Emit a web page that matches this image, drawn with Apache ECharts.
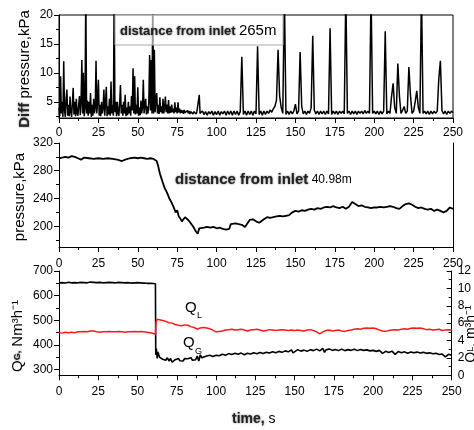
<!DOCTYPE html>
<html><head><meta charset="utf-8">
<script src="https://cdn.jsdelivr.net/npm/echarts@6/dist/echarts.min.js"></script>
<style>html,body{margin:0;padding:0;background:#fff}#c{width:474px;height:430px}</style>
</head><body><div id="c"></div>
<script>
// Time axis (s)
const timeMin = 0, timeMax = 250, timeStep = 25;

// Panel 1: differential pressure (kPa)
// diffEarly: one value every 0.5 s, t = 0 .. 90
const diffEarly = [
  4.0, 2.5, 9.4, 3.0, 5.0, 2.4, 12.0, 3.5, 2.4, 5.5,
  7.1, 2.6, 4.5, 2.5, 5.9, 3.2, 2.4, 4.8, 7.4, 2.8,
  5.0, 2.5, 5.5, 3.0, 2.6, 4.5, 6.0, 2.7, 5.0, 12.2,
  3.0, 10.0, 2.5, 4.0, 24.0, 3.0, 5.2, 2.6, 5.0, 3.0,
  6.5, 2.4, 4.5, 2.6, 5.5, 3.0, 4.0, 12.1, 3.0, 5.0,
  8.8, 2.6, 4.5, 2.5, 5.0, 3.0, 4.0, 7.1, 2.6, 4.5,
  7.6, 2.5, 4.2, 2.8, 5.5, 2.6, 8.5, 3.0, 4.5, 2.6,
  24.0, 3.2, 5.0, 2.5, 5.0, 3.0, 2.6, 4.8, 7.9, 3.0,
  4.5, 2.6, 5.0, 3.0, 6.2, 2.5, 4.0, 2.7, 5.0, 3.0,
  4.2, 2.6, 6.0, 3.5, 10.8, 3.0, 9.4, 2.8, 4.5, 3.0,
  7.5, 2.6, 4.0, 2.7, 5.2, 3.0, 4.0, 8.8, 3.0, 4.5,
  5.5, 2.8, 4.2, 3.0, 5.0, 13.1, 3.5, 12.2, 3.0, 24.0,
  3.0, 14.0, 3.2, 5.0, 6.5, 3.0, 4.5, 2.9, 5.8, 3.2,
  4.2, 3.0, 5.5, 3.0, 4.0, 5.9, 3.2, 4.5, 3.0, 5.3,
  3.0, 4.2, 3.1, 4.5, 3.2, 3.8, 3.0, 4.9, 3.2, 4.0,
  3.0, 4.9, 3.2, 3.8, 3.0, 3.6, 3.1, 3.5, 2.9, 3.6,
  3.1, 3.4, 2.9, 3.5, 3.0, 3.4, 2.9, 3.3, 3.0, 3.5,
  2.9, 3.3, 3.0, 3.4, 2.9, 3.3, 3.0, 3.5, 6.2, 3.0,
  3.3
];
// diffLate: one value every 1 s, t = 91 .. 250
const diffLate = [
  3.4, 2.8, 3.3, 2.7, 3.3, 2.9, 3.4, 2.7, 3.3, 2.8,
  3.4, 2.7, 3.3, 2.9, 3.4, 2.7, 3.4, 2.8, 3.4, 2.7,
  3.4, 2.8, 3.4, 2.7, 3.3, 12.8, 2.8, 3.4, 2.7, 3.4,
  2.8, 3.4, 2.7, 3.4, 2.9, 14.6, 2.8, 3.4, 2.7, 3.4,
  2.8, 3.4, 3.0, 3.6, 3.2, 3.8, 4.2, 5.3, 14.0, 6.0,
  4.0, 3.0, 24.0, 2.8, 3.4, 2.8, 3.4, 2.9, 3.4, 4.6,
  2.9, 3.4, 13.6, 4.2, 2.9, 3.4, 2.8, 3.4, 3.0, 4.0,
  16.4, 3.6, 2.9, 3.4, 2.8, 3.4, 2.9, 3.4, 2.8, 3.4,
  2.9, 17.7, 2.8, 3.4, 2.9, 3.4, 2.8, 3.4, 3.0, 3.4,
  2.9, 24.0, 3.0, 3.4, 2.8, 3.4, 2.9, 3.4, 2.8, 3.4,
  3.0, 3.4, 2.9, 3.5, 3.0, 3.4, 3.0, 24.0, 3.0, 3.4,
  2.9, 3.4, 2.8, 3.4, 2.9, 3.4, 17.2, 2.9, 3.4, 3.0,
  5.9, 8.2, 4.0, 3.0, 11.6, 6.0, 3.0, 3.5, 4.2, 3.0,
  3.4, 11.0, 6.2, 3.0, 3.4, 5.0, 6.9, 4.0, 3.0, 24.0,
  3.0, 3.4, 2.9, 3.4, 2.8, 3.4, 2.9, 3.4, 3.0, 3.4,
  9.0, 12.1, 3.5, 2.9, 3.4, 2.8, 3.4, 3.0, 3.4, 3.1
];
const diffEarlyStart = 0, diffEarlyStep = 0.5, diffLateStart = 91, diffLateStep = 1;
const diffTicks = [5, 10, 15, 20];
const diffMinorTicks = [2.5, 7.5, 12.5, 17.5];

// Panel 2: pressure (kPa), [time s, value]
const pressure = [
  [0,298],[2,299],[4,300],[6,299],[8,301],[10,300],[12,298],[14,296],[16,299],[17,300],
  [19,298],[22,297],[25,298],[28,297],[31,298],[34,297],[37,296],[40,294],[42,296],[45,298],
  [48,299],[50,298],[52,299],[54,298],[56,297],[58,298],[60,297],[61,297],[62,294],[63,286],
  [64,276],[65,269],[66,262],[67,255],[68,251],[69,246],[70,240],[71,236],[72,231],[73,226],
  [74,220],[75,223],[76,214],[77,211],[78,207],[79,210],[80,213],[81,211],[82,209],[83,206],
  [84,203],[85,200],[86,196],[87,192],[88,189],[89,197],[90,199],[92,198],[94,199],[96,198],
  [98,199],[100,197],[102,198],[104,196],[106,195],[107,194],[108,196],[109,203],[110,205],[112,204],
  [114,203],[116,202],[118,199],[119,200],[121,209],[123,210],[125,207],[127,205],[128,204],[130,210],
  [132,213],[134,212],[136,213],[138,214],[140,215],[142,214],[144,215],[146,216],[148,220],[150,222],
  [152,221],[154,223],[156,222],[158,224],[160,225],[162,224],[164,226],[166,225],[168,227],[170,228],
  [172,227],[174,229],[176,227],[178,226],[180,228],[182,225],[184,228],[186,235],[188,232],[190,229],
  [192,230],[194,228],[196,227],[198,226],[200,227],[202,227],[204,228],[206,227],[208,228],[210,229],
  [212,228],[214,226],[216,225],[218,229],[220,232],[222,233],[224,231],[226,228],[228,226],[230,227],
  [232,225],[234,224],[236,225],[238,222],[240,224],[242,222],[244,220],[246,222],[248,227],[250,225]
];
const pressTicks = [200, 240, 280, 320];
const pressMinorTicks = [180, 220, 260, 300];

// Panel 3: gas flow Q_G (Nm3/h), [time s, value]
const gasFlow = [
  [0,652],[2,653],[4,651],[6,654],[8,652],[10,653],[12,652],[14,654],[16,653],[18,652],
  [20,655],[22,654],[24,653],[26,654],[28,652],[30,653],[32,654],[34,653],[36,652],[38,654],
  [40,653],[42,652],[44,653],[46,651],[48,652],[50,653],[52,652],[54,651],[56,650],[58,650],
  [60,649],[61.4,648],[61.6,360],[62,385],[62.5,345],[63,372],[64,350],[65,355],[66,342],[67,350],
  [68,338],[69,348],[70,335],[71,345],[72,330],[73,322],[74,340],[75,332],[76,345],[77,336],
  [78,342],[79,335],[80,345],[81,338],[82,344],[83,340],[84,348],[85,338],[86,346],[87,340],
  [88,355],[89,335],[90,360],[91,348],[92,352],[94,355],[96,358],[98,353],[100,358],[102,356],
  [104,362],[106,358],[108,365],[110,361],[112,366],[114,362],[116,367],[118,360],[120,366],[122,363],
  [124,368],[126,364],[128,369],[130,365],[132,370],[134,367],[136,372],[138,368],[140,374],[142,370],
  [144,376],[146,372],[148,380],[149,368],[150,374],[152,381],[154,375],[156,379],[158,374],[160,381],
  [162,377],[164,383],[166,376],[168,386],[169,370],[170,380],[172,384],[174,378],[176,382],[178,377],
  [180,383],[182,377],[184,381],[186,378],[188,383],[190,377],[192,382],[194,378],[196,380],[198,376],
  [200,378],[202,374],[204,378],[206,366],[208,374],[210,369],[212,375],[214,362],[216,373],[218,368],
  [220,372],[222,366],[224,371],[226,368],[228,371],[230,367],[232,370],[234,366],[236,368],[238,364],
  [240,366],[242,361],[244,363],[246,352],[248,362],[250,358]
];
const gasTicks = [300, 400, 500, 600, 700];
const gasMinorTicks = [350, 450, 550, 650];

// Panel 3: liquid flow Q_L (m3/h), [time s, value]
const liquidFlow = [
  [0,4.9],[2,4.85],[4,4.95],[6,4.9],[8,4.95],[10,4.9],[12,5.0],[14,5.0],[16,5.05],[18,5.0],
  [20,5.1],[22,5.1],[24,5.0],[26,4.95],[28,5.0],[30,5.0],[32,5.05],[34,5.0],[36,5.0],[38,5.05],
  [40,5.0],[42,4.95],[44,5.0],[46,5.0],[48,5.05],[50,5.0],[52,5.05],[54,5.0],[56,4.95],[58,4.9],
  [60,4.8],[61.4,4.7],[61.8,6.1],[62.5,6.45],[64,6.4],[66,6.3],[68,6.2],[70,6.05],[72,6.0],[74,5.85],
  [76,5.75],[78,5.7],[80,5.8],[82,5.75],[84,5.6],[86,5.5],[88,5.3],[90,5.45],[92,5.5],[94,5.45],
  [96,5.35],[98,5.2],[100,5.0],[102,5.05],[104,5.1],[106,5.2],[108,5.25],[110,5.3],[112,5.2],[114,5.25],
  [116,5.3],[118,5.2],[120,5.1],[122,5.2],[124,5.25],[126,5.3],[128,5.2],[130,5.1],[132,5.15],[134,5.25],
  [136,5.2],[138,5.15],[140,5.2],[142,5.25],[144,5.2],[146,5.15],[148,5.2],[150,5.15],[152,5.2],[154,5.15],
  [156,5.1],[158,5.2],[160,5.25],[162,5.15],[164,5.0],[166,4.75],[168,5.0],[170,5.15],[172,5.2],[174,5.1],
  [176,5.15],[178,5.2],[180,5.1],[182,5.05],[184,5.15],[186,5.2],[188,5.3],[190,5.35],[192,5.3],[194,5.4],
  [196,5.45],[198,5.4],[200,5.45],[202,5.35],[204,5.2],[206,5.1],[208,5.05],[210,5.15],[212,5.2],[214,5.25],
  [216,5.2],[218,5.3],[220,5.35],[222,5.3],[224,5.4],[226,5.45],[228,5.4],[230,5.45],[232,5.35],[234,5.25],
  [236,5.3],[238,5.2],[240,5.25],[242,5.3],[244,5.15],[246,5.2],[248,5.25],[250,5.2]
];
const liqTicks = [0, 2, 4, 6, 8, 10, 12];
const liqMinorTicks = [1, 3, 5, 7, 9, 11];

const FONT = 'Liberation Sans, Arial, sans-serif';
const lblStyle = { fontSize: 12, fontFamily: FONT, color: '#000' };
const axisLine = { show: true, lineStyle: { color: '#000', width: 1 } };

function xAx(grid, margin) {
  return {
    type: 'value', gridIndex: grid, min: timeMin, max: timeMax, interval: timeStep, position: 'bottom',
    axisLine: axisLine, axisTick: { show: true, length: 5, lineStyle: { color: '#000' } },
    minorTick: { show: true, splitNumber: 2, length: 3, lineStyle: { color: '#000' } },
    axisLabel: Object.assign({ margin: margin }, lblStyle), splitLine: { show: false }, minorSplitLine: { show: false }
  };
}
function yMain(grid, min, max, ticks, pos, inside) {
  return {
    type: 'value', gridIndex: grid, min: min, max: max, position: pos || 'left',
    axisLine: axisLine,
    axisTick: { show: true, length: 5, inside: !!inside, customValues: ticks, lineStyle: { color: '#000' } },
    axisLabel: Object.assign({ margin: 6, customValues: ticks }, lblStyle),
    splitLine: { show: false }
  };
}
function yMinor(grid, min, max, ticks, pos, inside) {
  return {
    type: 'value', gridIndex: grid, min: min, max: max, position: pos || 'left',
    axisLine: { show: false },
    axisTick: { show: true, length: 3, inside: !!inside, customValues: ticks, lineStyle: { color: '#000' } },
    axisLabel: { show: false }, splitLine: { show: false }
  };
}

const diffData = diffEarly.map((v, i) => [diffEarlyStart + i * diffEarlyStep, v])
  .concat(diffLate.map((v, i) => [diffLateStart + i * diffLateStep, v]));

const chart = echarts.init(document.getElementById('c'), null, { renderer: 'canvas' });
const option = {
  animation: false,
  backgroundColor: '#fff',
  grid: [
    { left: 59, top: 15, width: 394, height: 103, show: true, borderColor: '#000', borderWidth: 1, backgroundColor: 'transparent' },
    { left: 59, top: 143, width: 394, height: 104 },
    { left: 59, top: 271, width: 394, height: 106 }
  ],
  xAxis: [xAx(0, 9), xAx(1, 11), xAx(2, 9)],
  yAxis: [
    yMain(0, 2.2, 20, diffTicks),
    yMinor(0, 2.2, 20, diffMinorTicks),
    yMain(1, 170, 320, pressTicks),
    yMinor(1, 170, 320, pressMinorTicks),
    { type: 'value', gridIndex: 1, min: 170, max: 320, position: 'right', axisLine: axisLine,
      axisTick: { show: false }, axisLabel: { show: false }, splitLine: { show: false } },
    yMain(2, 270, 700, gasTicks),
    yMinor(2, 270, 700, gasMinorTicks),
    yMain(2, -0.2, 12, liqTicks, 'right', true),
    yMinor(2, -0.2, 12, liqMinorTicks, 'right', true)
  ],
  series: [
    { type: 'line', xAxisIndex: 0, yAxisIndex: 0, data: diffData,
      showSymbol: false, symbol: 'none', clip: true, lineStyle: { color: '#000', width: 1.5 } },
    { type: 'line', xAxisIndex: 1, yAxisIndex: 2, data: pressure,
      showSymbol: false, symbol: 'none', clip: true, lineStyle: { color: '#000', width: 1.8 } },
    { type: 'line', xAxisIndex: 2, yAxisIndex: 5, data: gasFlow,
      showSymbol: false, symbol: 'none', clip: true, lineStyle: { color: '#000', width: 1.6 } },
    { type: 'line', xAxisIndex: 2, yAxisIndex: 7, data: liquidFlow,
      showSymbol: false, symbol: 'none', clip: true, lineStyle: { color: '#ff1a1a', width: 1.5 } }
  ],
  graphic: [
    { type: 'rect', z: 100, shape: { x: 115, y: 15, width: 168, height: 30 },
      style: { fill: 'rgba(255,255,255,0.6)', stroke: '#aaa', lineWidth: 1 } },
    { type: 'text', z: 101, x: 120, y: 31,
      style: { text: '{b|distance from inlet} {n|265m}', align: 'left', verticalAlign: 'middle',
        rich: { b: { fontFamily: FONT, fontWeight: 'bold', fontSize: 13, fill: '#222', textShadowColor: 'rgba(0,0,0,0.6)', textShadowBlur: 2 },
                n: { fontFamily: FONT, fontSize: 15, fill: '#000' } } } },
    { type: 'text', z: 101, x: 175, y: 180,
      style: { text: '{b|distance from inlet} {n|40.98m}', align: 'left', verticalAlign: 'middle',
        rich: { b: { fontFamily: FONT, fontWeight: 'bold', fontSize: 15, fill: '#222', textShadowColor: 'rgba(0,0,0,0.6)', textShadowBlur: 2 },
                n: { fontFamily: FONT, fontSize: 12, fill: '#000' } } } },
    { type: 'text', z: 101, x: 185, y: 308, style: { text: 'Q', fontFamily: FONT, fontSize: 15, fill: '#000', align: 'left', verticalAlign: 'middle' } },
    { type: 'text', z: 101, x: 197, y: 316, style: { text: 'L', fontFamily: FONT, fontSize: 9, fill: '#000', align: 'left', verticalAlign: 'middle' } },
    { type: 'text', z: 101, x: 183, y: 343, style: { text: 'Q', fontFamily: FONT, fontSize: 15, fill: '#000', align: 'left', verticalAlign: 'middle' } },
    { type: 'text', z: 101, x: 195, y: 352, style: { text: 'G', fontFamily: FONT, fontSize: 9, fill: '#000', align: 'left', verticalAlign: 'middle' } },
    { type: 'text', z: 101, x: 25, y: 69, rotation: Math.PI / 2,
      style: { text: '{b|Diff} pressure,kPa', align: 'center', verticalAlign: 'middle', fontFamily: FONT, fontSize: 15, fill: '#000',
        rich: { b: { fontFamily: FONT, fontWeight: 'bold', fontSize: 15, fill: '#222', textShadowColor: 'rgba(0,0,0,0.6)', textShadowBlur: 2 } } } },
    { type: 'text', z: 101, x: 20, y: 197, rotation: Math.PI / 2,
      style: { text: 'pressure,kPa', align: 'center', verticalAlign: 'middle', fontFamily: FONT, fontSize: 15, fill: '#000' } },
    { type: 'text', z: 101, x: 18, y: 336, rotation: Math.PI / 2,
      style: { text: '{q|Q}{s|G,} Nm³h⁻¹', align: 'center', verticalAlign: 'middle', fontFamily: FONT, fontSize: 15, fill: '#000',
        rich: { q: { fontFamily: FONT, fontSize: 15, fill: '#000' },
                s: { fontFamily: FONT, fontWeight: 'bold', fontSize: 9, fill: '#222', textShadowColor: 'rgba(0,0,0,0.7)', textShadowBlur: 2 } } } },
    { type: 'text', z: 101, x: 471, y: 334, rotation: Math.PI / 2,
      style: { text: 'Q{s|L}, m³h⁻¹', align: 'center', verticalAlign: 'middle', fontFamily: FONT, fontSize: 14, fill: '#000',
        rich: { s: { fontFamily: FONT, fontSize: 9, fill: '#000' } } } },
    { type: 'text', z: 101, x: 232, y: 419,
      style: { text: '{b|time,} s', align: 'left', verticalAlign: 'middle', fontFamily: FONT, fontSize: 14, fill: '#000',
        rich: { b: { fontFamily: FONT, fontWeight: 'bold', fontSize: 14, fill: '#222', textShadowColor: 'rgba(0,0,0,0.6)', textShadowBlur: 2 } } } }
  ]
};
chart.setOption(option);
</script>
</body></html>
